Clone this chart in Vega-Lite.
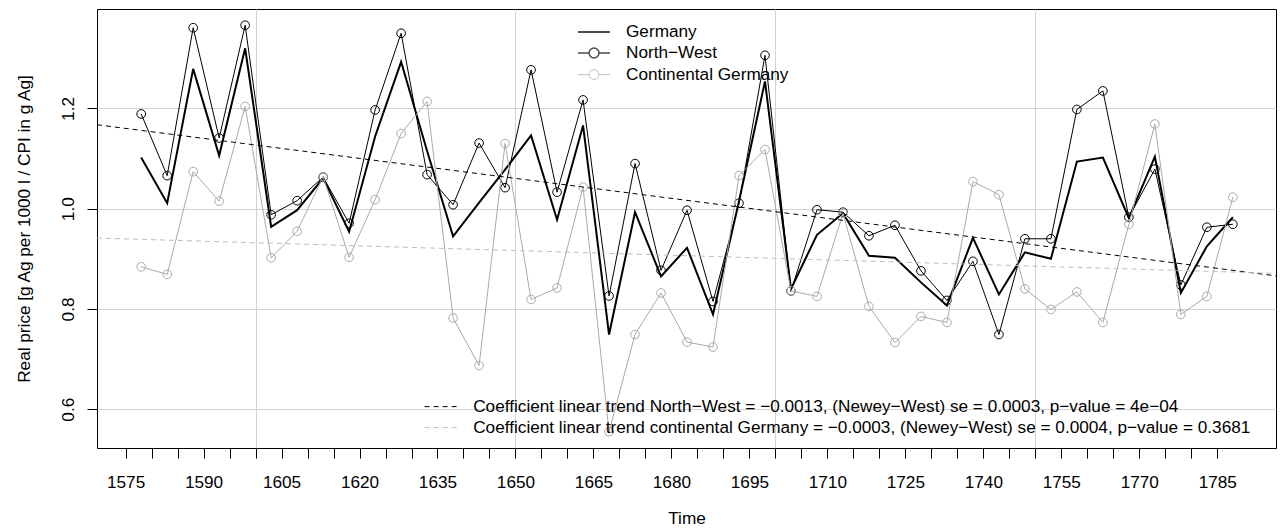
{
  "$schema": "https://vega.github.io/schema/vega-lite/v6.json",
  "width": 1179,
  "height": 439,
  "autosize": {"type": "none"},
  "padding": {"left": 97, "top": 9, "right": 4, "bottom": 83},
  "config": {
    "font": "Liberation Sans",
    "view": {"stroke": "black", "strokeWidth": 1},
    "axis": {"labelColor": "black", "titleColor": "black", "titleFontWeight": "normal", "labelFontSize": 17.2, "titleFontSize": 17.2, "tickColor": "black", "tickWidth": 1, "tickSize": 10, "domain": false}
  },
  "datasets": {
    "prices": [
      {"year": 1578, "series": "Germany", "value": 1.102}, {"year": 1578, "series": "North−West", "value": 1.189}, {"year": 1578, "series": "Continental Germany", "value": 0.884},
      {"year": 1583, "series": "Germany", "value": 1.011}, {"year": 1583, "series": "North−West", "value": 1.066}, {"year": 1583, "series": "Continental Germany", "value": 0.869},
      {"year": 1588, "series": "Germany", "value": 1.279}, {"year": 1588, "series": "North−West", "value": 1.361}, {"year": 1588, "series": "Continental Germany", "value": 1.074},
      {"year": 1593, "series": "Germany", "value": 1.106}, {"year": 1593, "series": "North−West", "value": 1.141}, {"year": 1593, "series": "Continental Germany", "value": 1.015},
      {"year": 1598, "series": "Germany", "value": 1.320}, {"year": 1598, "series": "North−West", "value": 1.366}, {"year": 1598, "series": "Continental Germany", "value": 1.204},
      {"year": 1603, "series": "Germany", "value": 0.964}, {"year": 1603, "series": "North−West", "value": 0.988}, {"year": 1603, "series": "Continental Germany", "value": 0.902},
      {"year": 1608, "series": "Germany", "value": 0.997}, {"year": 1608, "series": "North−West", "value": 1.016}, {"year": 1608, "series": "Continental Germany", "value": 0.955},
      {"year": 1613, "series": "Germany", "value": 1.061}, {"year": 1613, "series": "North−West", "value": 1.063}, {"year": 1613, "series": "Continental Germany", "value": 1.064},
      {"year": 1618, "series": "Germany", "value": 0.954}, {"year": 1618, "series": "North−West", "value": 0.971}, {"year": 1618, "series": "Continental Germany", "value": 0.903},
      {"year": 1623, "series": "Germany", "value": 1.144}, {"year": 1623, "series": "North−West", "value": 1.197}, {"year": 1623, "series": "Continental Germany", "value": 1.018},
      {"year": 1628, "series": "Germany", "value": 1.293}, {"year": 1628, "series": "North−West", "value": 1.350}, {"year": 1628, "series": "Continental Germany", "value": 1.150},
      {"year": 1633, "series": "Germany", "value": 1.115}, {"year": 1633, "series": "North−West", "value": 1.068}, {"year": 1633, "series": "Continental Germany", "value": 1.214},
      {"year": 1638, "series": "Germany", "value": 0.945}, {"year": 1638, "series": "North−West", "value": 1.008}, {"year": 1638, "series": "Continental Germany", "value": 0.782},
      {"year": 1643, "series": "Germany", "value": 1.012}, {"year": 1643, "series": "North−West", "value": 1.131}, {"year": 1643, "series": "Continental Germany", "value": 0.687},
      {"year": 1648, "series": "Germany", "value": 1.078}, {"year": 1648, "series": "North−West", "value": 1.042}, {"year": 1648, "series": "Continental Germany", "value": 1.130},
      {"year": 1653, "series": "Germany", "value": 1.146}, {"year": 1653, "series": "North−West", "value": 1.277}, {"year": 1653, "series": "Continental Germany", "value": 0.819},
      {"year": 1658, "series": "Germany", "value": 0.978}, {"year": 1658, "series": "North−West", "value": 1.033}, {"year": 1658, "series": "Continental Germany", "value": 0.842},
      {"year": 1663, "series": "Germany", "value": 1.166}, {"year": 1663, "series": "North−West", "value": 1.217}, {"year": 1663, "series": "Continental Germany", "value": 1.043},
      {"year": 1668, "series": "Germany", "value": 0.749}, {"year": 1668, "series": "North−West", "value": 0.826}, {"year": 1668, "series": "Continental Germany", "value": 0.555},
      {"year": 1673, "series": "Germany", "value": 0.993}, {"year": 1673, "series": "North−West", "value": 1.090}, {"year": 1673, "series": "Continental Germany", "value": 0.749},
      {"year": 1678, "series": "Germany", "value": 0.865}, {"year": 1678, "series": "North−West", "value": 0.877}, {"year": 1678, "series": "Continental Germany", "value": 0.832},
      {"year": 1683, "series": "Germany", "value": 0.922}, {"year": 1683, "series": "North−West", "value": 0.997}, {"year": 1683, "series": "Continental Germany", "value": 0.734},
      {"year": 1688, "series": "Germany", "value": 0.789}, {"year": 1688, "series": "North−West", "value": 0.815}, {"year": 1688, "series": "Continental Germany", "value": 0.724},
      {"year": 1693, "series": "Germany", "value": 1.015}, {"year": 1693, "series": "North−West", "value": 1.011}, {"year": 1693, "series": "Continental Germany", "value": 1.066},
      {"year": 1698, "series": "Germany", "value": 1.254}, {"year": 1698, "series": "North−West", "value": 1.306}, {"year": 1698, "series": "Continental Germany", "value": 1.118},
      {"year": 1703, "series": "Germany", "value": 0.840}, {"year": 1703, "series": "North−West", "value": 0.836}, {"year": 1703, "series": "Continental Germany", "value": 0.836},
      {"year": 1708, "series": "Germany", "value": 0.948}, {"year": 1708, "series": "North−West", "value": 0.998}, {"year": 1708, "series": "Continental Germany", "value": 0.825},
      {"year": 1713, "series": "Germany", "value": 0.991}, {"year": 1713, "series": "North−West", "value": 0.993}, {"year": 1713, "series": "Continental Germany", "value": 0.991},
      {"year": 1718, "series": "Germany", "value": 0.906}, {"year": 1718, "series": "North−West", "value": 0.946}, {"year": 1718, "series": "Continental Germany", "value": 0.805},
      {"year": 1723, "series": "Germany", "value": 0.902}, {"year": 1723, "series": "North−West", "value": 0.967}, {"year": 1723, "series": "Continental Germany", "value": 0.733},
      {"year": 1728, "series": "Germany", "value": 0.853}, {"year": 1728, "series": "North−West", "value": 0.876}, {"year": 1728, "series": "Continental Germany", "value": 0.785},
      {"year": 1733, "series": "Germany", "value": 0.807}, {"year": 1733, "series": "North−West", "value": 0.817}, {"year": 1733, "series": "Continental Germany", "value": 0.773},
      {"year": 1738, "series": "Germany", "value": 0.942}, {"year": 1738, "series": "North−West", "value": 0.895}, {"year": 1738, "series": "Continental Germany", "value": 1.054},
      {"year": 1743, "series": "Germany", "value": 0.829}, {"year": 1743, "series": "North−West", "value": 0.749}, {"year": 1743, "series": "Continental Germany", "value": 1.028},
      {"year": 1748, "series": "Germany", "value": 0.913}, {"year": 1748, "series": "North−West", "value": 0.940}, {"year": 1748, "series": "Continental Germany", "value": 0.840},
      {"year": 1753, "series": "Germany", "value": 0.900}, {"year": 1753, "series": "North−West", "value": 0.940}, {"year": 1753, "series": "Continental Germany", "value": 0.799},
      {"year": 1758, "series": "Germany", "value": 1.094}, {"year": 1758, "series": "North−West", "value": 1.198}, {"year": 1758, "series": "Continental Germany", "value": 0.834},
      {"year": 1763, "series": "Germany", "value": 1.102}, {"year": 1763, "series": "North−West", "value": 1.235}, {"year": 1763, "series": "Continental Germany", "value": 0.773},
      {"year": 1768, "series": "Germany", "value": 0.981}, {"year": 1768, "series": "North−West", "value": 0.983}, {"year": 1768, "series": "Continental Germany", "value": 0.969},
      {"year": 1773, "series": "Germany", "value": 1.104}, {"year": 1773, "series": "North−West", "value": 1.079}, {"year": 1773, "series": "Continental Germany", "value": 1.169},
      {"year": 1778, "series": "Germany", "value": 0.832}, {"year": 1778, "series": "North−West", "value": 0.848}, {"year": 1778, "series": "Continental Germany", "value": 0.789},
      {"year": 1783, "series": "Germany", "value": 0.925}, {"year": 1783, "series": "North−West", "value": 0.963}, {"year": 1783, "series": "Continental Germany", "value": 0.825},
      {"year": 1788, "series": "Germany", "value": 0.983}, {"year": 1788, "series": "North−West", "value": 0.969}, {"year": 1788, "series": "Continental Germany", "value": 1.023}
    ],
    "trends": [
      {"year": 1569.5, "trend": "Coefficient linear trend North−West = −0.0013, (Newey−West) se = 0.0003, p−value = 4e−04", "value": 1.1675},
      {"year": 1796.3, "trend": "Coefficient linear trend North−West = −0.0013, (Newey−West) se = 0.0003, p−value = 4e−04", "value": 0.866},
      {"year": 1569.5, "trend": "Coefficient linear trend continental Germany = −0.0003, (Newey−West) se = 0.0004, p−value = 0.3681", "value": 0.9415},
      {"year": 1796.3, "trend": "Coefficient linear trend continental Germany = −0.0003, (Newey−West) se = 0.0004, p−value = 0.3681", "value": 0.871}
    ]
  },
  "layer": [
    {
      "data": {"name": "prices"},
      "transform": [{"filter": "datum.series == 'Germany'"}],
      "mark": {"type": "line", "color": "black", "strokeWidth": 2},
      "encoding": {
        "x": {
          "field": "year", "type": "quantitative",
          "scale": {"domain": [1569.5, 1796.3], "nice": false, "zero": false},
          "axis": {
            "values": [1575,1580,1585,1590,1595,1600,1605,1610,1615,1620,1625,1630,1635,1640,1645,1650,1655,1660,1665,1670,1675,1680,1685,1690,1695,1700,1705,1710,1715,1720,1725,1730,1735,1740,1745,1750,1755,1760,1765,1770,1775,1780,1785],
            "tickCount": 100,
            "format": "d",
            "labelExpr": "(datum.value - 1575) % 15 == 0 ? datum.label : ''",
            "labelOverlap": false, "labelFlush": false, "labelBound": false,
            "labelPadding": 15,
            "grid": true,
            "gridColor": "#d3d3d3",
            "gridOpacity": {"condition": {"test": "datum.value % 50 == 0", "value": 1}, "value": 0},
            "title": "Time",
            "titleX": 589.5, "titleY": 75, "titleBaseline": "alphabetic", "titleAlign": "center"
          }
        },
        "y": {
          "field": "value", "type": "quantitative",
          "scale": {"domain": [0.5226, 1.3984], "nice": false, "zero": false},
          "axis": {
            "values": [0.6, 0.8, 1.0, 1.2],
            "format": ".1f",
            "labelAngle": -90, "labelAlign": "center", "labelBaseline": "bottom", "labelPadding": 10,
            "grid": true, "gridColor": "#d3d3d3",
            "title": "Real price [g Ag per 1000 l / CPI in g Ag]",
            "titleAngle": -90, "titleX": -67.5, "titleY": 219.5, "titleAlign": "center", "titleBaseline": "alphabetic"
          }
        }
      }
    },
    {
      "data": {"name": "prices"},
      "transform": [{"filter": "datum.series == 'North−West'"}],
      "mark": {"type": "line", "color": "black", "strokeWidth": 1},
      "encoding": {"x": {"field": "year", "type": "quantitative"}, "y": {"field": "value", "type": "quantitative"}}
    },
    {
      "data": {"name": "prices"},
      "transform": [{"filter": "datum.series == 'North−West'"}],
      "mark": {"type": "point", "shape": "circle", "filled": false, "color": "black", "strokeWidth": 1, "size": 75, "opacity": 1},
      "encoding": {"x": {"field": "year", "type": "quantitative"}, "y": {"field": "value", "type": "quantitative"}}
    },
    {
      "data": {"name": "prices"},
      "transform": [{"filter": "datum.series == 'Continental Germany'"}],
      "mark": {"type": "line", "color": "#aaaaaa", "strokeWidth": 1},
      "encoding": {"x": {"field": "year", "type": "quantitative"}, "y": {"field": "value", "type": "quantitative"}}
    },
    {
      "data": {"name": "prices"},
      "transform": [{"filter": "datum.series == 'Continental Germany'"}],
      "mark": {"type": "point", "shape": "circle", "filled": false, "color": "#aaaaaa", "strokeWidth": 1, "size": 75, "opacity": 1},
      "encoding": {"x": {"field": "year", "type": "quantitative"}, "y": {"field": "value", "type": "quantitative"}}
    },
    {
      "data": {"name": "trends"},
      "mark": {"type": "line", "strokeWidth": 1, "clip": true},
      "encoding": {
        "x": {"field": "year", "type": "quantitative"},
        "y": {"field": "value", "type": "quantitative"},
        "stroke": {
          "field": "trend", "type": "nominal",
          "scale": {"domain": ["Coefficient linear trend North−West = −0.0013, (Newey−West) se = 0.0003, p−value = 4e−04", "Coefficient linear trend continental Germany = −0.0003, (Newey−West) se = 0.0004, p−value = 0.3681"], "range": ["black", "#bebebe"]},
          "legend": {"orient": "none", "legendX": 335, "legendY": 389, "title": null, "padding": 0, "labelFontSize": 17.2, "labelColor": "black", "labelLimit": 1200, "labelOffset": 24, "rowPadding": 3, "symbolType": "M-2,0H2", "symbolSize": 256, "symbolStrokeWidth": 1}
        },
        "strokeDash": {
          "field": "trend", "type": "nominal",
          "scale": {"domain": ["Coefficient linear trend North−West = −0.0013, (Newey−West) se = 0.0003, p−value = 4e−04", "Coefficient linear trend continental Germany = −0.0003, (Newey−West) se = 0.0004, p−value = 0.3681"], "range": [[5, 4], [5, 4]]},
          "legend": {"orient": "none", "legendX": 335, "legendY": 389, "title": null, "padding": 0, "labelFontSize": 17.2, "labelColor": "black", "labelLimit": 1200, "labelOffset": 24, "rowPadding": 3, "symbolType": "M-2,0H2", "symbolSize": 256, "symbolStrokeWidth": 1}
        }
      }
    },
    {
      "data": {"values": []},
      "mark": {"type": "point", "filled": false},
      "encoding": {
        "shape": {
          "field": "series", "type": "nominal",
          "scale": {"domain": ["Germany", "North−West", "Continental Germany"], "range": ["M-2,0H2", "M-2,0H-0.62M0.62,0H2M0.62,0A0.62,0.62 0 1,1 -0.62,0A0.62,0.62 0 1,1 0.62,0", "M-2,0H-0.62M0.62,0H2M0.62,0A0.62,0.62 0 1,1 -0.62,0A0.62,0.62 0 1,1 0.62,0"]},
          "legend": {"orient": "none", "legendX": 488, "legendY": 14, "title": null, "padding": 0, "labelFontSize": 17.2, "labelColor": "black", "labelLimit": 600, "labelOffset": 23, "rowPadding": 3, "symbolSize": 256}
        },
        "color": {
          "field": "series", "type": "nominal",
          "scale": {"domain": ["Germany", "North−West", "Continental Germany"], "range": ["black", "black", "#aaaaaa"]},
          "legend": {"orient": "none", "legendX": 488, "legendY": 14, "title": null, "padding": 0, "labelFontSize": 17.2, "labelColor": "black", "labelLimit": 600, "labelOffset": 23, "rowPadding": 3, "symbolSize": 256}
        },
        "strokeWidth": {
          "field": "series", "type": "nominal",
          "scale": {"domain": ["Germany", "North−West", "Continental Germany"], "range": [2, 1, 1]},
          "legend": {"orient": "none", "legendX": 488, "legendY": 14, "title": null, "padding": 0, "labelFontSize": 17.2, "labelColor": "black", "labelLimit": 600, "labelOffset": 23, "rowPadding": 3, "symbolSize": 256}
        }
      }
    }
  ]
}
